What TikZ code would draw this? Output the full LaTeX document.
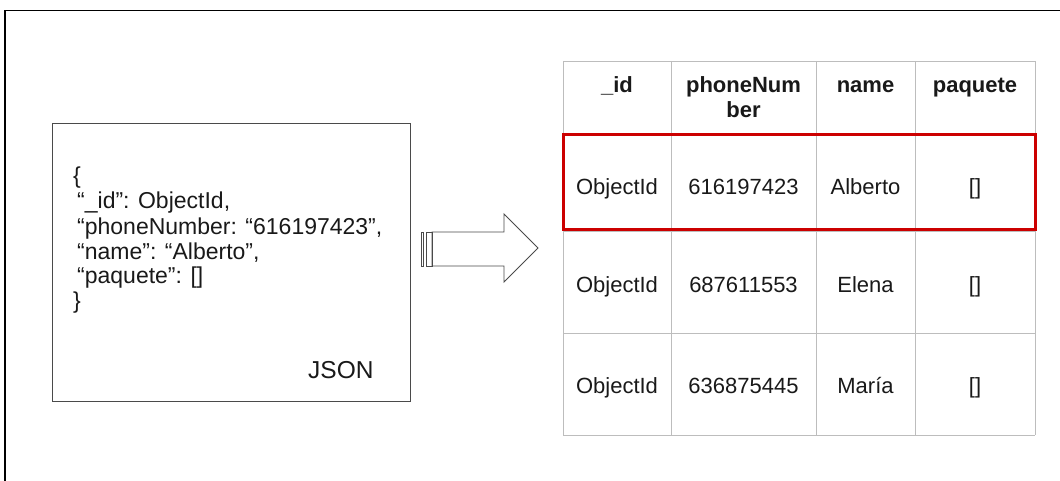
\documentclass[tikz,border=0pt]{standalone}
\usepackage{fontspec}
\setmainfont{Liberation Sans}
\definecolor{gridgray}{HTML}{BDBDBD}
\definecolor{rowred}{HTML}{CC0000}
\definecolor{inkgray}{HTML}{4A4A4A}
\begin{document}
\begin{tikzpicture}[x=1pt,y=-1pt,
  frameline/.style={line width=1.4pt, black},
  jsonbox/.style={draw=inkgray, line width=1pt},
  jsonline/.style={anchor=base west, inner sep=0pt, text=black!90,
    font=\fontsize{23}{25}\selectfont},
  gridline/.style={draw=gridgray, line width=0.9pt},
  headcell/.style={anchor=base, inner sep=0pt, text=black!90,
    font=\fontsize{22}{25}\selectfont\bfseries},
  datacell/.style={anchor=base, inner sep=0pt, text=black!90,
    font=\fontsize{22}{25}\selectfont},
  arrowline/.style={draw=inkgray, line width=0.9pt, line join=miter},
  highlight/.style={draw=rowred, line width=3pt}
]
\useasboundingbox (0,0) rectangle (1060,481);

% outer frame (top and left edges)
\draw[frameline] (5,481) -- (5,10.5) -- (1060,10.5);

% JSON document box
\draw[jsonbox] (52,124) rectangle (410,401);
\node[jsonline] (j0) at (73,184) {\{};
\node[jsonline] (j1) at (77,209) {“\_id”: ObjectId,};
\node[jsonline] (j2) at (77,234) {“phoneNumber: “616197423”,};
\node[jsonline] (j3) at (77,259) {“name”: “Alberto”,};
\node[jsonline] (j4) at (77,283) {“paquete”: []};
\node[jsonline] (j5) at (73,308) {\}};
\node[jsonline, font=\fontsize{24.5}{26}\selectfont] (jlabel) at (308,378) {JSON};

% striped block arrow
\draw[arrowline] (421,232) rectangle (423.5,266);
\draw[arrowline] (426,232) rectangle (432,266);
\draw[arrowline] (432,232) -- (504,232) -- (504,214) -- (538,248)
  -- (504,282) -- (504,266) -- (432,266) -- cycle;

% table grid
\foreach \yy in {61,135,231,333,435}
  \draw[gridline] (563,\yy) -- (1035,\yy);
\foreach \xx in {563,671,816,915,1035}
  \draw[gridline] (\xx,61) -- (\xx,435);

% header row
\node[headcell] (h1) at (617,93) {\_id};
\node[headcell] (h2a) at (743.5,93) {phoneNum};
\node[headcell] (h2b) at (743.5,118) {ber};
\node[headcell] (h3) at (865.5,93) {name};
\node[headcell] (h4) at (975,93) {paquete};

% data rows
\node[datacell] (a1) at (617,195) {ObjectId};
\node[datacell] (a2) at (743.5,195) {616197423};
\node[datacell] (a3) at (865.5,195) {Alberto};
\node[datacell] (a4) at (975,195) {[]};

\node[datacell] (b1) at (617,292) {ObjectId};
\node[datacell] (b2) at (743.5,292) {687611553};
\node[datacell] (b3) at (865.5,292) {Elena};
\node[datacell] (b4) at (975,292) {[]};

\node[datacell] (c1) at (617,393) {ObjectId};
\node[datacell] (c2) at (743.5,393) {636875445};
\node[datacell] (c3) at (865.5,393) {María};
\node[datacell] (c4) at (975,393) {[]};

% highlighted first record
\draw[highlight] (563,135) rectangle (1035,230);
\end{tikzpicture}
\end{document}
